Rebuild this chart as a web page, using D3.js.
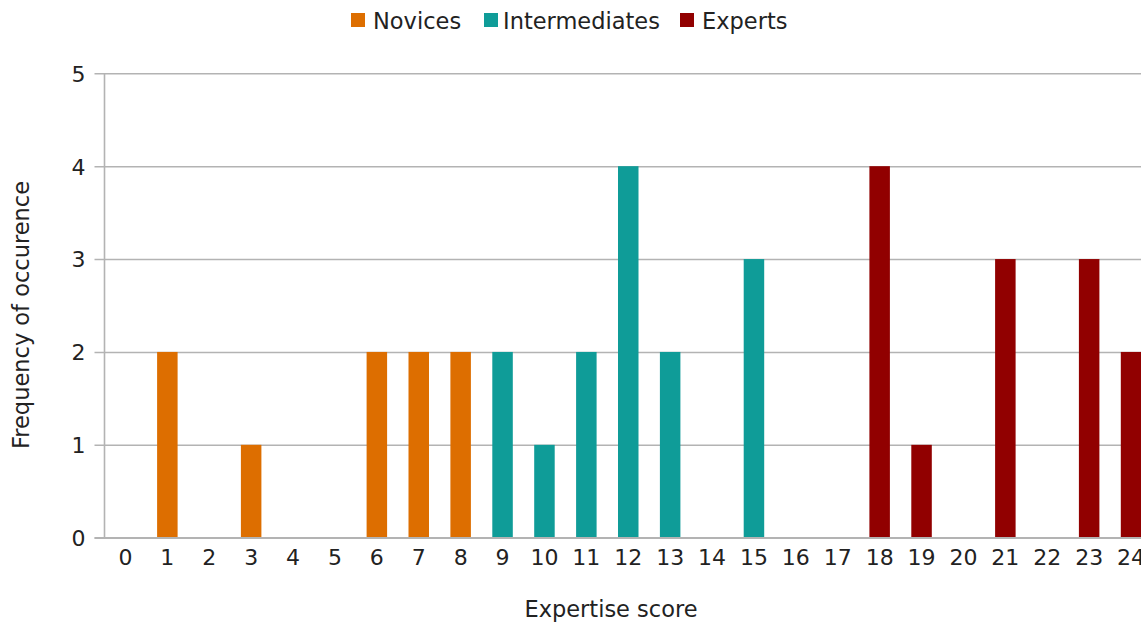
<!DOCTYPE html>
<html>
<head>
<meta charset="utf-8">
<script src="https://cdn.jsdelivr.net/npm/d3@7"></script>
<style>
  html, body { margin: 0; padding: 0; background: #fff; }
  svg { display: block; font-family: "DejaVu Sans", sans-serif; }
</style>
</head>
<body>
<svg id="chart" width="1141" height="624"></svg>
<script>
// Expertise scores 0..24 and how often each occurs, per group
const scores = d3.range(0, 25);
const novices       = [0,2,0,1,0,0,2,2,2,0,0,0,0,0,0,0,0,0,0,0,0,0,0,0,0];
const intermediates = [0,0,0,0,0,0,0,0,0,2,1,2,4,2,0,3,0,0,0,0,0,0,0,0,0];
const experts       = [0,0,0,0,0,0,0,0,0,0,0,0,0,0,0,0,0,0,4,1,0,3,0,3,2];
const yTicks = [0, 1, 2, 3, 4, 5];
const seriesNames = ["Novices", "Intermediates", "Experts"];
const seriesColors = ["#dd6e00", "#0f9c98", "#910000"];

const series = [novices, intermediates, experts].map((vals, i) => ({
  name: seriesNames[i], color: seriesColors[i],
  values: vals.map((v, j) => ({ score: scores[j], value: v }))
}));

const FONT = "DejaVu Sans, sans-serif";
const TEXT = "#222";

const svg = d3.select("#chart");
const margin = { left: 104.5, top: 73.3, bottom: 537.7 };
const plotRight = 104.5 + 25 * 41.9;

const x = d3.scaleBand().domain(scores).range([margin.left, plotRight]).paddingInner(0).paddingOuter(0);
const y = d3.scaleLinear().domain([0, 5]).range([margin.bottom, margin.top]);
const barW = 20.5;

// horizontal gridlines with short outward ticks
const yAxis = d3.axisLeft(y).tickValues(yTicks).tickSize(-(plotRight - margin.left) - 10).tickFormat(d3.format("d")).tickPadding(9);
const gy = svg.append("g").attr("transform", `translate(${margin.left - 10},0)`).call(yAxis);
gy.select(".domain").remove();
gy.selectAll(".tick line").attr("stroke", "#b3b3b3").attr("stroke-width", 1.6).attr("x1", 0);
gy.selectAll(".tick text").attr("font-size", 22).attr("fill", TEXT).attr("font-family", FONT).attr("dy", "0.36em");

// vertical axis line
svg.append("line")
  .attr("x1", margin.left).attr("x2", margin.left)
  .attr("y1", margin.top).attr("y2", margin.bottom)
  .attr("stroke", "#b3b3b3").attr("stroke-width", 1.6);

// bars
series.forEach(s => {
  svg.append("g").selectAll("rect")
    .data(s.values.filter(d => d.value > 0))
    .join("rect")
    .attr("x", d => x(d.score) + x.bandwidth() / 2 - barW / 2)
    .attr("width", barW)
    .attr("y", d => y(d.value))
    .attr("height", d => y(0) - y(d.value))
    .attr("fill", s.color);
});

// baseline redrawn above the bars
svg.append("line")
  .attr("x1", margin.left - 10).attr("x2", plotRight)
  .attr("y1", y(0)).attr("y2", y(0))
  .attr("stroke", "#b3b3b3").attr("stroke-width", 1.6);

// x axis labels (no tick marks)
const xAxis = d3.axisBottom(x).tickSize(0).tickPadding(12);
const gx = svg.append("g").attr("transform", `translate(0,${y(0)})`).call(xAxis);
gx.select(".domain").remove();
gx.selectAll(".tick text").attr("font-size", 22).attr("fill", TEXT).attr("font-family", FONT);

// axis titles
svg.append("text")
  .attr("x", 611).attr("y", 617)
  .attr("text-anchor", "middle").attr("font-size", 22.5).attr("fill", TEXT)
  .text("Expertise score");
svg.append("text")
  .attr("transform", "translate(29,315) rotate(-90)")
  .attr("text-anchor", "middle").attr("font-size", 22.5).attr("fill", TEXT)
  .text("Frequency of occurence");

// legend
const legendItems = [
  { x: 351, tx: 373 },
  { x: 484, tx: 503 },
  { x: 680, tx: 702 }
];
const legend = svg.append("g");
series.forEach((s, i) => {
  legend.append("rect")
    .attr("x", legendItems[i].x).attr("y", 13)
    .attr("width", 14).attr("height", 14)
    .attr("fill", s.color);
  legend.append("text")
    .attr("x", legendItems[i].tx).attr("y", 29)
    .attr("font-size", 22.5).attr("fill", TEXT)
    .text(s.name);
});
</script>
</body>
</html>
